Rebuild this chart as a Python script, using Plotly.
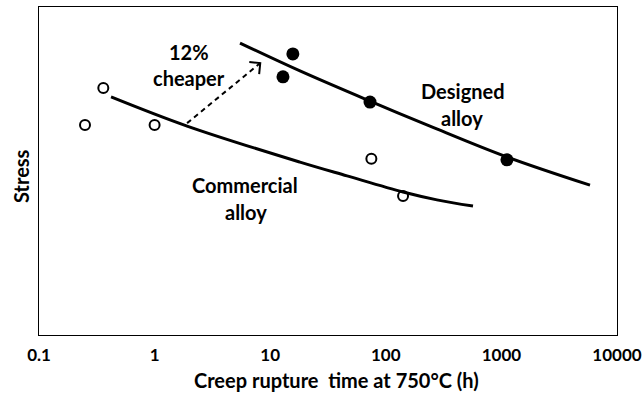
import math
import plotly.graph_objects as go

# Creep rupture tests at 750 °C: rupture time (h) and relative stress level
commercial_time = [0.25, 0.36, 1.0, 75, 141]
commercial_stress = [64.0, 75.3, 64.0, 53.7, 42.4]
designed_time = [12.9, 15.7, 73, 1117]
designed_stress = [78.7, 85.7, 71.0, 53.4]

# Trend curves through each data set
commercial_fit_time = [0.42, 1.91, 18.1, 46.2, 141, 277, 568]
commercial_fit_stress = [72.6, 63.7, 52.7, 48.5, 43.6, 41.2, 39.3]
designed_fit_time = [5.48, 18.1, 73, 241, 1117, 5840]
designed_fit_stress = [89.0, 80.5, 71.3, 63.7, 54.3, 45.7]

# Cost-saving arrow from commercial to designed curve
arrow_time = [1.91, 8.2]
arrow_stress = [64.6, 82.9]

tick_values = [0.1, 1, 10, 100, 1000, 10000]
tick_labels = ["0.1", "1", "10", "100", "1000", "10000"]

W, H = 644, 395
M_L, M_R, M_T, M_B = 39, 27, 7, 60
PLOT_W = W - M_L - M_R
PLOT_H = H - M_T - M_B
X_RANGE = [-1, 4]
Y_RANGE = [0, 100]
px_per_decade = PLOT_W / (X_RANGE[1] - X_RANGE[0])
px_per_unit = PLOT_H / (Y_RANGE[1] - Y_RANGE[0])

FONT = "Lato"
BLACK = "#000000"

fig = go.Figure()

fig.add_trace(go.Scatter(
    x=commercial_fit_time, y=commercial_fit_stress, mode="lines",
    line=dict(color=BLACK, width=3, shape="spline", smoothing=1.0),
    hoverinfo="skip", showlegend=False))
fig.add_trace(go.Scatter(
    x=designed_fit_time, y=designed_fit_stress, mode="lines",
    line=dict(color=BLACK, width=3, shape="spline", smoothing=1.0),
    hoverinfo="skip", showlegend=False))

fig.add_trace(go.Scatter(
    x=commercial_time, y=commercial_stress, mode="markers",
    marker=dict(symbol="circle-open", size=10, color=BLACK,
                line=dict(width=2, color=BLACK)),
    name="Commercial alloy", showlegend=False))
fig.add_trace(go.Scatter(
    x=designed_time, y=designed_stress, mode="markers",
    marker=dict(symbol="circle", size=13, color=BLACK),
    name="Designed alloy", showlegend=False))

# dashed arrow shaft
fig.add_trace(go.Scatter(
    x=arrow_time, y=arrow_stress, mode="lines",
    line=dict(color=BLACK, width=2, dash="5px,4px"),
    hoverinfo="skip", showlegend=False))

# open chevron head at the arrow tip, built in screen space
x0, x1 = math.log10(arrow_time[0]), math.log10(arrow_time[1])
dx = (x1 - x0) * px_per_decade
dy = (arrow_stress[1] - arrow_stress[0]) * px_per_unit
n = math.hypot(dx, dy)
ux, uy = -dx / n, -dy / n
head_len = 11
head_x, head_y = [], []
for ang in (math.radians(45), math.radians(-45)):
    rx = ux * math.cos(ang) - uy * math.sin(ang)
    ry = ux * math.sin(ang) + uy * math.cos(ang)
    head_x.append(10 ** (x1 + rx * head_len / px_per_decade))
    head_y.append(arrow_stress[1] + ry * head_len / px_per_unit)
fig.add_trace(go.Scatter(
    x=[head_x[0], arrow_time[1], head_x[1]],
    y=[head_y[0], arrow_stress[1], head_y[1]],
    mode="lines", line=dict(color=BLACK, width=2),
    hoverinfo="skip", showlegend=False))


def label(text, px, py, size=20, angle=0):
    fig.add_annotation(
        text=text, xref="paper", yref="paper",
        x=(px - M_L) / PLOT_W, y=(H - M_B - py) / PLOT_H,
        xanchor="center", yanchor="middle", showarrow=False,
        textangle=angle,
        font=dict(family=FONT, size=size, color=BLACK, weight="bold"))


label("12%", 189, 52)
label("cheaper", 189, 78)
label("Designed", 463, 91)
label("alloy", 462, 118)
label("Commercial", 245, 185)
label("alloy", 246, 212)
label("Stress", 21, 176, size=20, angle=-90)
label("Creep rupture\u00a0\u00a0time at 750°C (h)", 336, 380, size=20)

fig.update_xaxes(
    type="log", range=X_RANGE, tickvals=tick_values, ticktext=tick_labels,
    ticks="", showgrid=False, zeroline=False, automargin=False,
    showline=True, mirror=True, linecolor=BLACK, linewidth=1.3,
    tickfont=dict(family=FONT, size=17, color=BLACK, weight="bold"),
    ticklabelstandoff=4)
fig.update_yaxes(
    range=Y_RANGE, showticklabels=False, ticks="", showgrid=False,
    zeroline=False, automargin=False, showline=True, mirror=True,
    linecolor=BLACK, linewidth=1.3)

fig.update_layout(
    width=W, height=H, autosize=False,
    margin=dict(l=M_L, r=M_R, t=M_T, b=M_B, autoexpand=False),
    paper_bgcolor="white", plot_bgcolor="white",
    font=dict(family=FONT, color=BLACK),
    showlegend=False)

fig.write_html("out.html")
